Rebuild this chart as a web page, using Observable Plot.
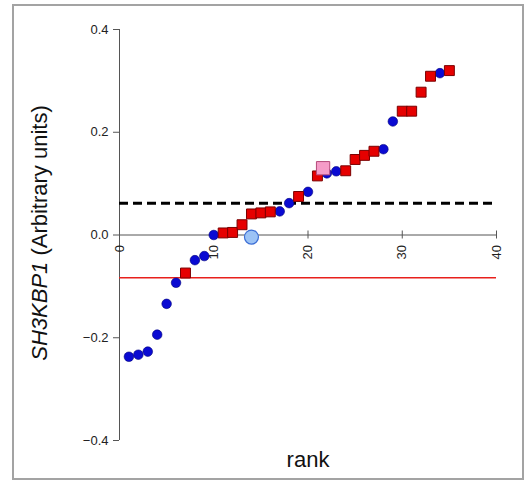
<!DOCTYPE html>
<html><head><meta charset="utf-8">
<script src="https://cdn.jsdelivr.net/npm/d3@7"></script>
<script src="https://cdn.jsdelivr.net/npm/@observablehq/plot@0.6"></script>
<style>
body{margin:0;background:#fff;font-family:"Liberation Sans",Arial,sans-serif}
#wrap{position:relative;width:525px;height:481px}
#wrap svg{position:absolute;left:0;top:0}
#border{position:absolute;left:12px;top:4px;width:508px;height:472px;border:2px solid #a3a3a3}
</style></head><body><div id="wrap"><div id="border"></div></div>
<script>
// Data
const blueRank  = [1, 2, 3, 4, 5, 6, 8, 9, 10, 17, 18, 20, 22, 23, 28, 29, 34];
const blueValue = [-0.237, -0.233, -0.227, -0.194, -0.134, -0.093, -0.049, -0.041, 0.000, 0.046, 0.062, 0.084, 0.120, 0.124, 0.167, 0.221, 0.315];
const redRank   = [7, 11, 12, 13, 14, 15, 16, 19, 21, 24, 25, 26, 27, 30, 31, 32, 33, 35];
const redValue  = [-0.074, 0.004, 0.005, 0.020, 0.041, 0.043, 0.045, 0.075, 0.115, 0.125, 0.147, 0.155, 0.163, 0.241, 0.241, 0.278, 0.309, 0.320];
const lightBlueRank = [14];
const lightBlueValue = [-0.004];
const pinkRank = [21.6];
const pinkValue = [0.130];
const dashedLevel = [0.062];
const redLevel = [-0.083];
const xTicks = [0, 10, 20, 30, 40];
const yTicks = [-0.4, -0.2, 0.0, 0.2, 0.4];
const yTitleGene = "SH3KBP1";
const yTitleRest = " (Arbitrary units)";
const xTitle = "rank";

const zip = (xs, ys) => xs.map((x, i) => ({rank: x, value: ys[i]}));
const blue = zip(blueRank, blueValue);
const red = zip(redRank, redValue);
const lightBlue = zip(lightBlueRank, lightBlueValue);
const pink = zip(pinkRank, pinkValue);
const axisColor = "#555";

const chart = Plot.plot({
  width: 525, height: 481,
  marginLeft: 119, marginRight: 29, marginTop: 29, marginBottom: 41,
  x: {domain: [0, 40], axis: null},
  y: {domain: [-0.4, 0.4], axis: null},
  style: {fontFamily: "'Liberation Sans', Arial, sans-serif", background: "transparent", overflow: "visible"},
  marks: [
    Plot.ruleX([0], {y1: yTicks[0], y2: yTicks[yTicks.length - 1], stroke: axisColor}),
    Plot.axisY(yTicks, {tickSize: 6, tickPadding: 5, tickFormat: d3.format(".1f"), fontSize: 13, stroke: axisColor, fill: "#222", label: null}),
    Plot.ruleY([0], {x1: xTicks[0], x2: xTicks[xTicks.length - 1], stroke: axisColor}),
    Plot.ruleX(xTicks, {x: d => d, y1: 0, y2: 0, insetTop: -4, insetBottom: -4, stroke: axisColor}),
    Plot.text(xTicks, {x: d => d, y: 0, text: d => String(d), rotate: -90, textAnchor: "end", dy: 10, fontSize: 13, fill: "#222"}),
    Plot.ruleY(dashedLevel, {x1: xTicks[0], x2: xTicks[xTicks.length - 1], stroke: "#000", strokeWidth: 3, strokeDasharray: "9,5"}),
    Plot.ruleY(redLevel, {x1: xTicks[0], x2: xTicks[xTicks.length - 1], stroke: "#e8201c", strokeWidth: 1.5}),
    Plot.dot(blue, {x: "rank", y: "value", r: 4.8, fill: "#0a0ad2", stroke: "#00007a", strokeWidth: 0.6}),
    Plot.dot(red, {x: "rank", y: "value", symbol: "square", r: 5.6, fill: "#e60000", stroke: "#7a0000", strokeWidth: 1}),
    Plot.dot(lightBlue, {x: "rank", y: "value", r: 7, fill: "#9cc3f5", stroke: "#3d6fd6", strokeWidth: 1.2}),
    Plot.dot(pink, {x: "rank", y: "value", symbol: "square", r: 7.5, fill: "#f59cc8", stroke: "#b44a7a", strokeWidth: 1}),
    Plot.text([yTitleGene + yTitleRest], {frameAnchor: "left", textAnchor: "middle", lineAnchor: "middle", rotate: -90, dx: -80, dy: -2, fontSize: 22, fill: "#111"}),
    Plot.text([xTitle], {frameAnchor: "bottom", textAnchor: "middle", lineAnchor: "middle", dy: 19, fontSize: 22, fill: "#111"})
  ]
});
document.getElementById("wrap").prepend(chart);

// make the gene name italic
d3.select(chart).selectAll("text").each(function() {
  if (this.textContent === yTitleGene + yTitleRest) {
    const t = d3.select(this);
    t.text(null);
    t.append("tspan").attr("font-style", "italic").text(yTitleGene);
    t.append("tspan").text(yTitleRest);
  }
});
</script>
</body></html>
